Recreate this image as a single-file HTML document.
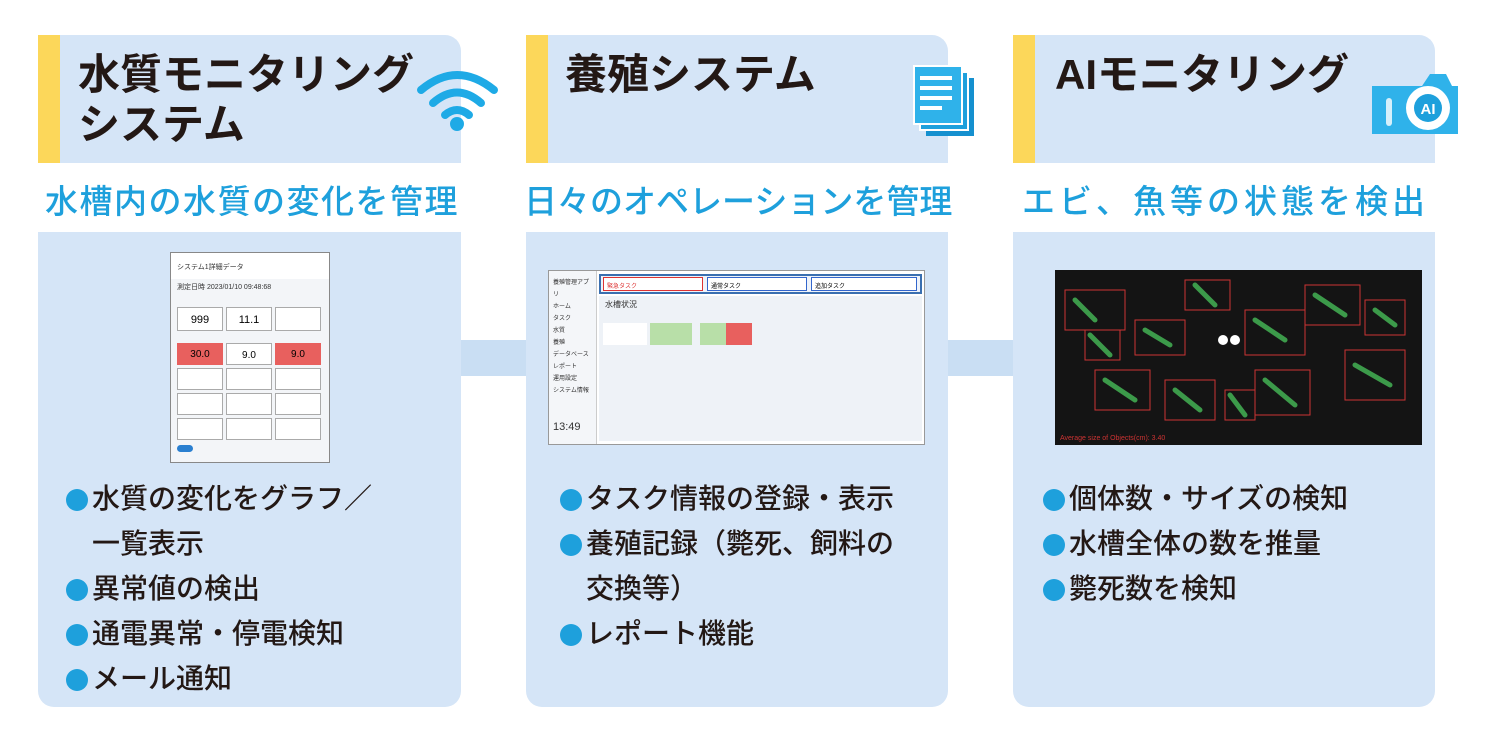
<!DOCTYPE html>
<html><head><meta charset="utf-8"><style>
*{margin:0;padding:0;box-sizing:border-box}
body{width:1490px;height:748px;background:#fff;position:relative;overflow:hidden;font-family:"Liberation Sans","Noto Sans CJK JP",sans-serif}
.abs{position:absolute}
.hd{background:#d5e5f7;border-top-right-radius:16px}
.yb{background:#fcd75a}
.bd{background:#d5e5f7;border-bottom-left-radius:16px;border-bottom-right-radius:16px}
.t{font-weight:bold;font-size:42px;color:#231815;line-height:50px;white-space:nowrap}
.sub{color:#1ea0dc;font-size:33px;font-weight:500;white-space:nowrap}
.bl{font-size:28px;color:#231815;line-height:45px;font-weight:500;white-space:nowrap}
.bl span.d{display:inline-block;width:22px;height:22px;border-radius:50%;background:#1ea0dc;vertical-align:-3px;margin-right:4px}
.ind{padding-left:26px}
</style></head><body>
<div class="abs" style="left:461px;top:340px;width:65px;height:36px;background:#c9def3"></div>
<div class="abs" style="left:948px;top:340px;width:65px;height:36px;background:#c9def3"></div>

<!-- panel 1 -->
<div class="abs hd" style="left:38px;top:35px;width:423px;height:128px"></div>
<div class="abs yb" style="left:38px;top:35px;width:22px;height:128px"></div>
<div class="abs t" style="left:78px;top:50px">水質モニタリング<br>システム</div>
<svg class="abs" style="left:415px;top:68px" width="85" height="65" viewBox="0 0 85 65">
<g fill="none" stroke="#1eaae6" stroke-width="8" stroke-linecap="round">
<path d="M6 22 Q42 -8 79 22"/><path d="M18 35 Q42 14 66 35"/><path d="M30 47 Q42 37 54 47"/></g>
<circle cx="42" cy="56" r="7" fill="#1eaae6"/></svg>
<div class="abs sub" style="left:45px;top:175px;letter-spacing:1.5px">水槽内の水質の変化を管理</div>
<div class="abs bd" style="left:38px;top:232px;width:423px;height:475px"></div>
<div class="abs" style="left:170px;top:252px;width:160px;height:211px;background:#f3f5f8;border:1px solid #888">
 <div style="background:#fff;height:26px;font-size:7px;padding:9px 0 0 6px;color:#333">システム1詳細データ</div>
 <div style="font-size:7px;padding:3px 6px;color:#333">測定日時 2023/01/10 09:48:68</div>
 <div style="display:grid;grid-template-columns:repeat(3,46px);grid-auto-rows:24px;gap:4px 3px;padding:12px 6px 0">
  <div style="background:#fff;border:1px solid #aaa;font-size:11px;text-align:center;padding-top:6px">999</div>
  <div style="background:#fff;border:1px solid #aaa;font-size:11px;text-align:center;padding-top:6px">11.1</div>
  <div style="background:#fff;border:1px solid #aaa"></div>
 </div>
 <div style="display:grid;grid-template-columns:repeat(3,46px);grid-auto-rows:22px;gap:3px;padding:12px 6px 0">
  <div style="background:#e8605e;font-size:10px;text-align:center;padding-top:6px">30.0</div>
  <div style="background:#fff;border:1px solid #aaa;font-size:10px;text-align:center;padding-top:6px">9.0</div>
  <div style="background:#e8605e;font-size:10px;text-align:center;padding-top:6px">9.0</div>
  <div style="background:#fff;border:1px solid #aaa"></div><div style="background:#fff;border:1px solid #aaa"></div><div style="background:#fff;border:1px solid #aaa"></div>
  <div style="background:#fff;border:1px solid #aaa"></div><div style="background:#fff;border:1px solid #aaa"></div><div style="background:#fff;border:1px solid #aaa"></div>
  <div style="background:#fff;border:1px solid #aaa"></div><div style="background:#fff;border:1px solid #aaa"></div><div style="background:#fff;border:1px solid #aaa"></div>
 </div>
 <div style="margin:5px 6px;width:16px;height:7px;border-radius:4px;background:#2a7fd0"></div>
</div>
<div class="abs bl" style="left:66px;top:476px"><span class="d"></span>水質の変化をグラフ／<br><span class="ind"></span>一覧表示<br><span class="d"></span>異常値の検出<br><span class="d"></span>通電異常・停電検知<br><span class="d"></span>メール通知</div>

<!-- panel 2 -->
<div class="abs hd" style="left:526px;top:35px;width:422px;height:128px"></div>
<div class="abs yb" style="left:526px;top:35px;width:22px;height:128px"></div>
<div class="abs t" style="left:565px;top:50px">養殖システム</div>
<svg class="abs" style="left:912px;top:64px" width="66" height="74" viewBox="0 0 66 74">
<rect x="14" y="14" width="48" height="58" fill="#1590cf"/><rect x="8" y="8" width="48" height="58" fill="#1ea0dc" stroke="#fff" stroke-width="2"/>
<rect x="2" y="2" width="48" height="58" fill="#2fb2ea" stroke="#fff" stroke-width="2"/>
<g stroke="#fff" stroke-width="4"><line x1="8" y1="14" x2="40" y2="14"/><line x1="8" y1="24" x2="40" y2="24"/><line x1="8" y1="34" x2="40" y2="34"/><line x1="8" y1="44" x2="30" y2="44"/></g></svg>
<div class="abs sub" style="left:524px;top:175px">日々のオペレーションを管理</div>
<div class="abs bd" style="left:526px;top:232px;width:422px;height:475px"></div>
<div class="abs" style="left:548px;top:270px;width:377px;height:175px;background:#fff;border:1px solid #999">
 <div class="abs" style="left:0;top:0;width:48px;height:173px;background:#f4f6f9;border-right:1px solid #ccc;font-size:6px;color:#333;padding:6px 4px;line-height:12px">養殖管理アプリ<br>ホーム<br>タスク<br>水質<br>養殖<br>データベース<br>レポート<br>運用設定<br>システム情報<br><br><br><span style="font-size:11px">13:49</span></div>
 <div class="abs" style="left:50px;top:3px;width:323px;height:20px;border:2px solid #3a6fb0;background:#eef3fa"></div>
 <div class="abs" style="left:54px;top:6px;width:100px;height:14px;border:1px solid #d33;background:#fff;font-size:6px;color:#d33;padding:3px">緊急タスク</div>
 <div class="abs" style="left:158px;top:6px;width:100px;height:14px;border:1px solid #36c;background:#fff;font-size:6px;padding:3px">通常タスク</div>
 <div class="abs" style="left:262px;top:6px;width:106px;height:14px;border:1px solid #36c;background:#fff;font-size:6px;padding:3px">追加タスク</div>
 <div class="abs" style="left:50px;top:25px;width:323px;height:145px;background:#eef2f7"></div>
 <div class="abs" style="left:56px;top:28px;font-size:8px;color:#333">水槽状況</div>
 <div class="abs" style="left:54px;top:52px;width:44px;height:22px;background:#fff"></div>
 <div class="abs" style="left:101px;top:52px;width:42px;height:22px;background:#b8dfa8"></div>
 <div class="abs" style="left:151px;top:52px;width:26px;height:22px;background:#b8dfa8"></div>
 <div class="abs" style="left:177px;top:52px;width:26px;height:22px;background:#e8605e"></div>
</div>
<div class="abs bl" style="left:560px;top:476px"><span class="d"></span>タスク情報の登録・表示<br><span class="d"></span>養殖記録（斃死、飼料の<br><span class="ind"></span>交換等）<br><span class="d"></span>レポート機能</div>

<!-- panel 3 -->
<div class="abs hd" style="left:1013px;top:35px;width:422px;height:128px"></div>
<div class="abs yb" style="left:1013px;top:35px;width:22px;height:128px"></div>
<div class="abs t" style="left:1055px;top:50px">AIモニタリング</div>
<svg class="abs" style="left:1366px;top:64px" width="96" height="72" viewBox="0 0 96 72">
<path d="M6 22 h50 l8 -12 h16 l6 12 h6 v48 h-86 z" fill="#2fb2ea"/>
<rect x="20" y="34" width="6" height="28" rx="3" fill="#fff" opacity=".8"/>
<circle cx="62" cy="44" r="22" fill="#fff"/><circle cx="62" cy="44" r="14" fill="#1ea0dc"/>
<text x="62" y="50" text-anchor="middle" font-family="Liberation Sans" font-weight="bold" font-size="15" fill="#fff">AI</text></svg>
<div class="abs sub" style="left:1022px;top:175px;letter-spacing:4px">エビ、魚等の状態を検出</div>
<div class="abs bd" style="left:1013px;top:232px;width:422px;height:475px"></div>
<svg class="abs" style="left:1055px;top:270px" width="367" height="175" viewBox="0 0 367 175">
<rect width="367" height="175" fill="#141414"/>
<g fill="none" stroke="#c33" stroke-width="1">
<rect x="10" y="20" width="60" height="40"/><rect x="80" y="50" width="50" height="35"/><rect x="130" y="10" width="45" height="30"/><rect x="190" y="40" width="60" height="45"/><rect x="250" y="15" width="55" height="40"/><rect x="290" y="80" width="60" height="50"/><rect x="40" y="100" width="55" height="40"/><rect x="110" y="110" width="50" height="40"/><rect x="200" y="100" width="55" height="45"/><rect x="30" y="60" width="35" height="30"/><rect x="170" y="120" width="30" height="30"/><rect x="310" y="30" width="40" height="35"/></g>
<g stroke="#3c9a4a" stroke-width="5" stroke-linecap="round">
<line x1="20" y1="30" x2="40" y2="50"/><line x1="90" y1="60" x2="115" y2="75"/><line x1="140" y1="15" x2="160" y2="35"/><line x1="200" y1="50" x2="230" y2="70"/><line x1="260" y1="25" x2="290" y2="45"/><line x1="300" y1="95" x2="335" y2="115"/><line x1="50" y1="110" x2="80" y2="130"/><line x1="120" y1="120" x2="145" y2="140"/><line x1="210" y1="110" x2="240" y2="135"/><line x1="35" y1="65" x2="55" y2="85"/><line x1="320" y1="40" x2="340" y2="55"/><line x1="175" y1="125" x2="190" y2="145"/></g>
<circle cx="168" cy="70" r="5" fill="#fff"/><circle cx="180" cy="70" r="5" fill="#fff"/>
<text x="5" y="170" font-family="Liberation Sans" font-size="7" fill="#c33">Average size of Objects(cm): 3.40</text></svg>
<div class="abs bl" style="left:1043px;top:476px"><span class="d"></span>個体数・サイズの検知<br><span class="d"></span>水槽全体の数を推量<br><span class="d"></span>斃死数を検知</div>
</body></html>
